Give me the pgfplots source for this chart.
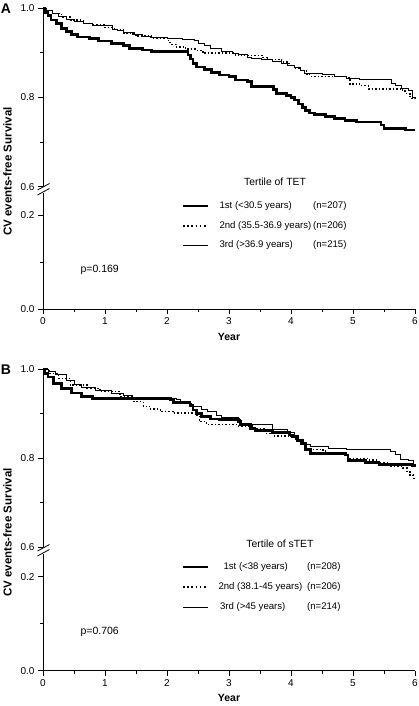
\documentclass[border=0pt]{standalone}
\usepackage{fontspec}
\setmainfont{Liberation Sans}
\usepackage{pgfplots}
\pgfplotsset{compat=1.18}
\pgfplotsset{
  kmbase/.style={scale only axis, width=372pt, xmin=0, xmax=6, clip=false,
    font=\fontsize{10}{12}\selectfont,
    /pgf/number format/assume math mode=true,
    axis line style={-, line width=0.8pt},
    tick style={line width=0.8pt, black},
    major tick length=5pt, minor tick length=3pt,
    tick align=outside},
  upperax/.style={kmbase, ymin=0.6, ymax=1.0,
    axis x line=none, axis y line*=left,
    ytick={0.6,0.8,1.0}, minor ytick={0.7,0.9},
    yticklabel style={/pgf/number format/.cd,fixed,fixed zerofill,precision=1}},
  lowerax/.style={kmbase, height=94pt, ymin=0, ymax=0.2,
    axis x line*=bottom, axis y line*=left,
    xtick={0,1,2,3,4,5,6}, minor xtick={0.5,1.5,2.5,3.5,4.5,5.5},
    ytick={0,0.2}, minor ytick={0.1},
    yticklabel style={/pgf/number format/.cd,fixed,fixed zerofill,precision=1},
    xlabel={\fontsize{10.5}{12}\selectfont\bfseries Year},
    xlabel style={yshift=-1.5pt}},
  g1/.style={black, line width=2.8pt, const plot, mark=none},
  g2/.style={black, line width=1.3pt, dash pattern=on 1.5pt off 2pt, const plot, mark=none},
  g3/.style={black, line width=0.9pt, const plot, mark=none},
}
\begin{document}
\begin{tikzpicture}[x=1pt,y=1pt]
\path[use as bounding box] (0,0) rectangle (418,-706);

% ---------------- Panel A ----------------
\begin{axis}[upperax, at={(43pt,-186.7pt)}, anchor=south west, height=178.7pt]
\addplot[g1] coordinates {(0,1.0) (0.03,0.99) (0.08,0.984) (0.13,0.973) (0.22,0.965) (0.3,0.955) (0.38,0.947) (0.46,0.94) (0.55,0.935) (0.75,0.931) (0.9,0.926) (1.1,0.92) (1.3,0.916) (1.4,0.91) (1.6,0.906) (1.75,0.903) (2.34,0.895) (2.38,0.886) (2.42,0.875) (2.47,0.868) (2.6,0.862) (2.72,0.856) (2.85,0.85) (3.0,0.846) (3.1,0.839) (3.3,0.835) (3.36,0.825) (3.72,0.817) (3.76,0.809) (3.93,0.805) (4.0,0.8) (4.06,0.794) (4.12,0.785) (4.18,0.777) (4.24,0.77) (4.3,0.765) (4.38,0.761) (4.55,0.757) (4.7,0.753) (4.87,0.749) (5.05,0.745) (5.45,0.738) (5.5,0.731) (5.85,0.727) (6.0,0.727)};
\addplot[g2] coordinates {(0,1.0) (0.05,0.995) (0.15,0.987) (0.3,0.98) (0.45,0.973) (0.65,0.966) (0.8,0.962) (1.0,0.957) (1.15,0.952) (1.3,0.944) (1.5,0.937) (1.75,0.932) (2.02,0.927) (2.05,0.919) (2.15,0.913) (2.3,0.908) (2.45,0.905) (2.58,0.899) (3.1,0.895) (3.2,0.893) (3.55,0.889) (3.62,0.884) (3.85,0.879) (3.97,0.872) (4.05,0.866) (4.15,0.86) (4.25,0.852) (4.3,0.847) (4.9,0.845) (4.95,0.83) (5.1,0.826) (5.25,0.819) (5.8,0.814) (5.86,0.808) (5.92,0.798) (6.0,0.797)};
\addplot[g3] coordinates {(0,1.0) (0.05,0.995) (0.15,0.988) (0.25,0.982) (0.38,0.974) (0.5,0.97) (0.65,0.966) (0.8,0.962) (1.0,0.96) (1.12,0.953) (1.2,0.95) (1.3,0.945) (1.45,0.941) (1.6,0.937) (1.73,0.934) (2.0,0.931) (2.25,0.929) (2.45,0.927) (2.5,0.921) (2.6,0.916) (2.7,0.91) (2.88,0.903) (3.05,0.899) (3.15,0.895) (3.3,0.89) (3.36,0.886) (3.53,0.884) (3.7,0.88) (3.85,0.877) (3.95,0.872) (4.05,0.866) (4.15,0.86) (4.22,0.854) (4.5,0.852) (4.7,0.847) (4.9,0.843) (5.1,0.841) (5.55,0.839) (5.62,0.832) (5.68,0.826) (5.78,0.82) (5.9,0.816) (5.96,0.8) (6.0,0.798)};
\end{axis}
\begin{axis}[lowerax, at={(43pt,-309.3pt)}, anchor=south west]
\end{axis}
\draw[line width=0.8pt] (43,-215) -- (43,-193);
\draw[line width=0.8pt] (37.5,-190) -- (49.5,-183.5);
\draw[line width=0.8pt] (37.5,-195) -- (49.5,-188.5);
\node[font=\fontsize{14}{16}\selectfont\bfseries] at (6,-8.5) {A};
\node[font=\fontsize{11.5}{13}\selectfont\bfseries, rotate=90] at (7.5,-171.5) {CV events-free Survival};
\node[font=\fontsize{10.4}{12}\selectfont] at (275,-181.7) {Tertile of TET};
\draw[line width=2.8pt] (183,-206) -- (208,-206);
\draw[line width=1.3pt, dash pattern=on 1.5pt off 2.7pt] (183,-226) -- (208,-226);
\draw[line width=0.9pt] (183,-245) -- (208,-245);
\begin{scope}[every node/.style={font=\fontsize{9.6}{12}\selectfont}]
\node[anchor=west] at (216,-206) {1st (<30.5 years)};
\node[anchor=west] at (216,-226) {2nd (35.5-36.9 years)};
\node[anchor=west] at (216,-245) {3rd (>36.9 years)};
\node[anchor=east] at (350,-206) {(n=207)};
\node[anchor=east] at (350,-226) {(n=206)};
\node[anchor=east] at (350,-245) {(n=215)};
\end{scope}
\node[anchor=west, font=\fontsize{10.5}{12}\selectfont] at (77,-270) {p=0.169};

% ---------------- Panel B ----------------
\begin{axis}[upperax, at={(43pt,-547.3pt)}, anchor=south west, height=178.3pt]
\addplot[g1] coordinates {(0,1.0) (0.02,0.99) (0.08,0.982) (0.17,0.968) (0.3,0.957) (0.46,0.946) (0.62,0.938) (0.8,0.934) (2.05,0.931) (2.1,0.924) (2.37,0.919) (2.42,0.908) (2.48,0.9) (2.55,0.893) (2.7,0.888) (2.85,0.886) (3.15,0.882) (3.18,0.875) (3.35,0.866) (3.42,0.862) (3.7,0.857) (3.98,0.852) (4.03,0.848) (4.1,0.84) (4.17,0.832) (4.24,0.82) (4.32,0.81) (4.88,0.807) (4.92,0.795) (5.2,0.791) (5.42,0.786) (5.95,0.783) (6.0,0.781)};
\addplot[g2] coordinates {(0,1.0) (0.1,0.99) (0.25,0.979) (0.44,0.964) (0.71,0.957) (0.92,0.949) (1.24,0.938) (1.46,0.927) (1.62,0.916) (1.72,0.91) (1.89,0.904) (2.1,0.901) (2.48,0.896) (2.52,0.882) (2.64,0.875) (3.15,0.872) (3.4,0.866) (3.6,0.856) (3.72,0.85) (4.0,0.849) (4.08,0.84) (4.18,0.83) (4.25,0.82) (4.5,0.818) (4.56,0.811) (4.85,0.806) (4.92,0.8) (5.25,0.796) (5.4,0.79) (5.6,0.782) (5.8,0.778) (5.87,0.77) (5.92,0.762) (5.97,0.755) (6.0,0.753)};
\addplot[g3] coordinates {(0,1.0) (0.08,0.995) (0.2,0.987) (0.38,0.975) (0.5,0.965) (0.62,0.958) (0.85,0.951) (1.1,0.946) (1.3,0.94) (1.45,0.934) (2.15,0.932) (2.22,0.923) (2.4,0.917) (2.55,0.91) (2.65,0.904) (2.8,0.896) (2.88,0.892) (3.15,0.886) (3.18,0.876) (3.7,0.864) (3.95,0.858) (4.05,0.852) (4.12,0.842) (4.2,0.831) (4.32,0.826) (4.6,0.822) (4.9,0.819) (5.6,0.815) (5.68,0.809) (5.76,0.798) (5.9,0.795) (5.97,0.787) (6.0,0.787)};
\end{axis}
\begin{axis}[lowerax, at={(43pt,-670.7pt)}, anchor=south west]
\end{axis}
\draw[line width=0.8pt] (43,-576.7) -- (43,-554);
\draw[line width=0.8pt] (37.5,-551) -- (49.5,-544.5);
\draw[line width=0.8pt] (37.5,-556) -- (49.5,-549.5);
\node[font=\fontsize{14}{16}\selectfont\bfseries] at (6,-369.5) {B};
\node[font=\fontsize{11.5}{13}\selectfont\bfseries, rotate=90] at (7.5,-532.5) {CV events-free Survival};
\node[font=\fontsize{10.4}{12}\selectfont] at (280,-543.3) {Tertile of sTET};
\draw[line width=2.8pt] (183,-567) -- (208,-567);
\draw[line width=1.3pt, dash pattern=on 1.5pt off 2.7pt] (183,-587) -- (208,-587);
\draw[line width=0.9pt] (183,-607) -- (208,-607);
\begin{scope}[every node/.style={font=\fontsize{9.6}{12}\selectfont}]
\node[anchor=west] at (220,-567) {1st (<38 years)};
\node[anchor=west] at (215,-587) {2nd (38.1-45 years)};
\node[anchor=west] at (216.5,-607) {3rd (>45 years)};
\node[anchor=east] at (344,-567) {(n=208)};
\node[anchor=east] at (344,-587) {(n=206)};
\node[anchor=east] at (344,-607) {(n=214)};
\end{scope}
\node[anchor=west, font=\fontsize{10.5}{12}\selectfont] at (77,-632) {p=0.706};
\end{tikzpicture}
\end{document}
